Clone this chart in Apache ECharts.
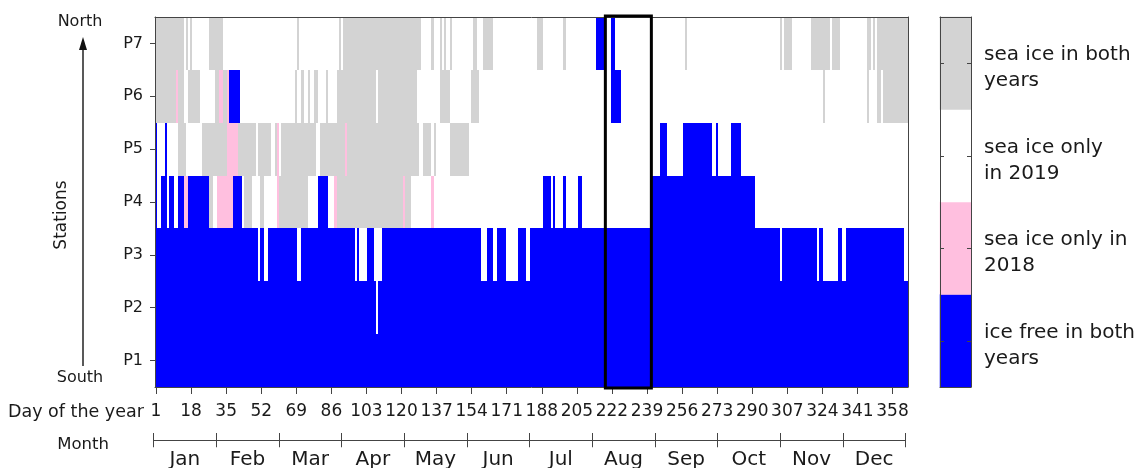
<!DOCTYPE html>
<html><head><meta charset="utf-8">
<script src="https://cdn.jsdelivr.net/npm/echarts@6/dist/echarts.min.js"></script>
<style>html,body{margin:0;padding:0;background:#fff}#c{width:1143px;height:468px}</style>
</head><body><div id="c"></div>
<script>
// state codes
const B = 0, K = 1, W = 2, G = 3;
const stations = ['P1', 'P2', 'P3', 'P4', 'P5', 'P6', 'P7'];
const stateNames = ['ice free in both\nyears', 'sea ice only in\n2018', 'sea ice only\nin 2019', 'sea ice in both\nyears'];
const stateColors = ['#0000ff', '#ffbfdf', '#ffffff', '#d3d3d3'];
const monthLabels = ['Jan', 'Feb', 'Mar', 'Apr', 'May', 'Jun', 'Jul', 'Aug', 'Sep', 'Oct', 'Nov', 'Dec'];
const dayCount = 365;
const dayLabelStep = 17;
const boxDays = [218.8, 241.1];

// runs per station: [firstDay, lastDay, state]
const p1Runs = [[1,365,B]];
const p2Runs = [[1,107,B],[108,108,W],[109,365,B]];
const p3Runs = [[1,50,B],[51,51,W],[52,53,B],[54,55,W],[56,69,B],[70,71,W],[72,97,B],[98,98,W],[99,99,B],[100,103,W],[104,106,B],[107,110,W],[111,158,B],[159,161,W],[162,164,B],[165,166,W],[167,170,B],[171,176,W],[177,180,B],[181,182,W],[183,303,B],[304,304,W],[305,321,B],[322,322,W],[323,324,B],[325,331,W],[332,333,B],[334,335,W],[336,363,B],[364,365,W]];
const p4Runs = [[1,1,B],[2,3,W],[4,6,B],[7,7,W],[8,9,B],[10,11,W],[12,14,B],[15,16,K],[17,26,B],[27,28,G],[29,30,W],[31,38,K],[39,42,B],[43,43,W],[44,47,G],[48,51,W],[52,53,G],[54,59,W],[60,60,K],[61,74,G],[75,79,W],[80,84,B],[85,87,W],[88,88,K],[89,120,G],[121,121,K],[122,124,G],[125,134,W],[135,135,K],[136,188,W],[189,192,B],[193,193,W],[194,194,B],[195,198,W],[199,199,B],[200,205,W],[206,207,B],[208,241,W],[242,291,B],[292,365,W]];
const p5Runs = [[1,1,B],[2,5,W],[6,6,B],[7,11,W],[12,15,G],[16,23,W],[24,35,G],[36,40,K],[41,49,G],[50,50,W],[51,56,G],[57,58,W],[59,59,G],[60,60,K],[61,61,W],[62,78,G],[79,80,W],[81,92,G],[93,93,K],[94,128,G],[129,130,W],[131,134,G],[135,135,W],[136,136,G],[137,143,W],[144,152,G],[153,245,W],[246,248,B],[249,256,W],[257,270,B],[271,272,W],[273,273,B],[274,279,W],[280,284,B],[285,365,W]];
const p6Runs = [[1,10,G],[11,11,K],[12,14,G],[15,16,W],[17,22,G],[23,29,W],[30,31,G],[32,33,K],[34,35,G],[36,36,K],[37,41,B],[42,68,W],[69,69,G],[70,71,W],[72,72,G],[73,74,W],[75,75,G],[76,77,W],[78,79,G],[80,83,W],[84,84,G],[85,88,W],[89,107,G],[108,108,W],[109,127,G],[128,138,W],[139,143,G],[144,153,W],[154,157,G],[158,221,W],[222,226,B],[227,324,W],[325,325,G],[326,345,W],[346,346,G],[347,350,W],[351,352,G],[353,353,W],[354,365,G]];
const p7Runs = [[1,14,G],[15,15,W],[16,16,G],[17,17,W],[18,18,G],[19,26,W],[27,33,G],[34,69,W],[70,70,G],[71,89,W],[90,90,G],[91,91,W],[92,129,G],[130,134,W],[135,135,G],[136,138,W],[139,139,G],[140,140,W],[141,141,G],[142,143,W],[144,144,G],[145,154,W],[155,156,G],[157,159,W],[160,164,G],[165,185,W],[186,188,G],[189,198,W],[199,199,G],[200,214,W],[215,218,B],[219,221,W],[222,223,B],[224,257,W],[258,258,G],[259,303,W],[304,304,G],[305,305,W],[306,309,G],[310,318,W],[319,327,G],[328,328,W],[329,332,G],[333,345,W],[346,347,G],[348,348,W],[349,349,G],[350,350,W],[351,365,G]];

const stationRuns = [p1Runs, p2Runs, p3Runs, p4Runs, p5Runs, p6Runs, p7Runs];
const days = [];
for (let d = 1; d <= dayCount; d++) days.push(String(d));
const runItems = [];
stationRuns.forEach((runs, s) => runs.forEach(([a, b, c]) => runItems.push([a, b, s, c])));
const legendCells = [0, 1, 2, 3].map(v => [0, v, v]);

const FONT = 'DejaVu Sans';
const TXT = '#1a1a1a';
const AX = '#444';
const chart = echarts.init(document.getElementById('c'), null, { renderer: 'canvas' });
chart.setOption({
  animation: false,
  textStyle: { fontFamily: FONT, color: TXT },
  grid: [
    { left: 155, top: 17, width: 753, height: 370 },
    { left: 940, top: 17, width: 31, height: 370 },
    { left: 153.5, top: 440, width: 752, height: 1 }
  ],
  visualMap: {
    type: 'piecewise', show: false, dimension: 2, seriesIndex: [1],
    pieces: stateColors.map((c, i) => ({ value: i, color: c }))
  },
  xAxis: [
    { gridIndex: 0, type: 'category', data: days, position: 'bottom', z: 5,
      axisLine: { show: true, lineStyle: { color: AX, width: 1 } },
      axisTick: { show: true, interval: dayLabelStep - 1, alignWithLabel: true, length: 7, lineStyle: { color: AX } },
      axisLabel: { show: true, interval: dayLabelStep - 1, fontSize: 17, color: TXT, margin: 16, fontFamily: FONT },
      splitLine: { show: false } },
    { gridIndex: 0, type: 'value', min: 0.5, max: dayCount + 0.5, position: 'top', z: 5,
      axisLine: { show: true, lineStyle: { color: AX, width: 1 } },
      axisTick: { show: false }, axisLabel: { show: false }, splitLine: { show: false } },
    { gridIndex: 1, type: 'category', data: ['c'], position: 'bottom', z: 5,
      axisLine: { show: true, lineStyle: { color: AX } }, axisTick: { show: false }, axisLabel: { show: false } },
    { gridIndex: 1, type: 'category', data: ['c'], position: 'top', z: 5,
      axisLine: { show: true, lineStyle: { color: AX } }, axisTick: { show: false }, axisLabel: { show: false } },
    { gridIndex: 2, type: 'category', data: monthLabels, position: 'bottom', boundaryGap: true,
      axisLine: { show: true, lineStyle: { color: AX, width: 1 } },
      axisTick: { show: true, interval: 0, length: 7, lineStyle: { color: AX } },
      axisLabel: { show: true, interval: 0, fontSize: 20, color: TXT, margin: 10, fontFamily: FONT } },
    { gridIndex: 2, type: 'category', data: monthLabels, position: 'top', boundaryGap: true,
      axisLine: { show: true, lineStyle: { color: AX, width: 1 } },
      axisTick: { show: true, interval: 0, length: 7, lineStyle: { color: AX } },
      axisLabel: { show: false } }
  ],
  yAxis: [
    { gridIndex: 0, type: 'category', data: stations, position: 'left', z: 5,
      axisLine: { show: true, lineStyle: { color: AX, width: 1 } },
      axisTick: { show: true, length: 5, alignWithLabel: true, lineStyle: { color: AX } },
      axisLabel: { show: true, fontSize: 16, color: TXT, margin: 12, fontFamily: FONT },
      splitLine: { show: false } },
    { gridIndex: 0, type: 'value', min: 0, max: 1, position: 'right', z: 5,
      axisLine: { show: true, lineStyle: { color: AX, width: 1 } },
      axisTick: { show: false }, axisLabel: { show: false }, splitLine: { show: false } },
    { gridIndex: 1, type: 'category', data: stateNames, position: 'left', z: 5,
      axisLine: { show: true, lineStyle: { color: AX } },
      axisTick: { show: true, inside: true, length: 4, alignWithLabel: true, lineStyle: { color: AX } },
      axisLabel: { show: false } },
    { gridIndex: 1, type: 'category', data: stateNames, position: 'right', z: 5,
      axisLine: { show: true, lineStyle: { color: AX } },
      axisTick: { show: true, inside: true, length: 4, alignWithLabel: true, lineStyle: { color: AX } },
      axisLabel: { show: true, color: TXT, margin: 13, align: 'left', fontFamily: FONT,
        formatter: v => '{s|}\n' + v.split('\n').map(l => '{t|' + l + '}').join('\n'),
        rich: { s: { lineHeight: 10, fontSize: 10 }, t: { fontSize: 20, lineHeight: 26, fontFamily: FONT, color: TXT } } } },
    { gridIndex: 2, type: 'value', show: false }
  ],
  series: [
    { type: 'custom', xAxisIndex: 1, yAxisIndex: 0, z: 2, silent: true,
      data: runItems, encode: { x: [0, 1], y: 2 },
      renderItem: function (params, api) {
        const s = api.value(2);
        const h = api.size([0, 1])[1];
        const a = api.coord([api.value(0) - 0.5, s]);
        const b = api.coord([api.value(1) + 0.5, s]);
        const x0 = Math.round(a[0]), x1 = Math.round(b[0]);
        const y0 = Math.round(a[1] - h / 2), y1 = Math.round(a[1] + h / 2);
        return { type: 'rect', shape: { x: x0, y: y0, width: x1 - x0, height: y1 - y0 },
          style: { fill: stateColors[api.value(3)] } };
      } },
    { type: 'heatmap', xAxisIndex: 2, yAxisIndex: 2, data: legendCells, z: 2,
      emphasis: { disabled: true }, itemStyle: { borderWidth: 0 } },
    { type: 'custom', xAxisIndex: 1, yAxisIndex: 1, z: 10, silent: true, clip: false,
      data: [[boxDays[0], 0, boxDays[1], 1]],
      encode: { x: [0, 2], y: [1, 3] },
      renderItem: function (params, api) {
        const p0 = api.coord([api.value(0), api.value(1)]);
        const p1 = api.coord([api.value(2), api.value(3)]);
        return { type: 'rect',
          shape: { x: p0[0], y: p1[1] - 1, width: p1[0] - p0[0], height: p0[1] - p1[1] + 2 },
          style: { fill: 'none', stroke: '#000', lineWidth: 3 } };
      } }
  ],
  graphic: [
    { type: 'text', x: 8, y: 412, style: { text: 'Day of the year', fontSize: 17.5, fontFamily: FONT, fill: TXT, align: 'left', verticalAlign: 'middle' } },
    { type: 'text', x: 83, y: 445, style: { text: 'Month', fontSize: 16.5, fontFamily: FONT, fill: TXT, align: 'center', verticalAlign: 'middle' } },
    { type: 'text', x: 80, y: 22, style: { text: 'North', fontSize: 16, fontFamily: FONT, fill: TXT, align: 'center', verticalAlign: 'middle' } },
    { type: 'text', x: 80, y: 378, style: { text: 'South', fontSize: 16, fontFamily: FONT, fill: TXT, align: 'center', verticalAlign: 'middle' } },
    { type: 'text', x: 62, y: 215, rotation: Math.PI / 2, style: { text: 'Stations', fontSize: 17, fontFamily: FONT, fill: TXT, align: 'center', verticalAlign: 'middle' } },
    { type: 'line', shape: { x1: 83, y1: 366, x2: 83, y2: 48 }, style: { stroke: '#222', lineWidth: 1.5 } },
    { type: 'polygon', shape: { points: [[83, 37], [79, 50], [87, 50]] }, style: { fill: '#111' } }
  ]
});
</script></body></html>
